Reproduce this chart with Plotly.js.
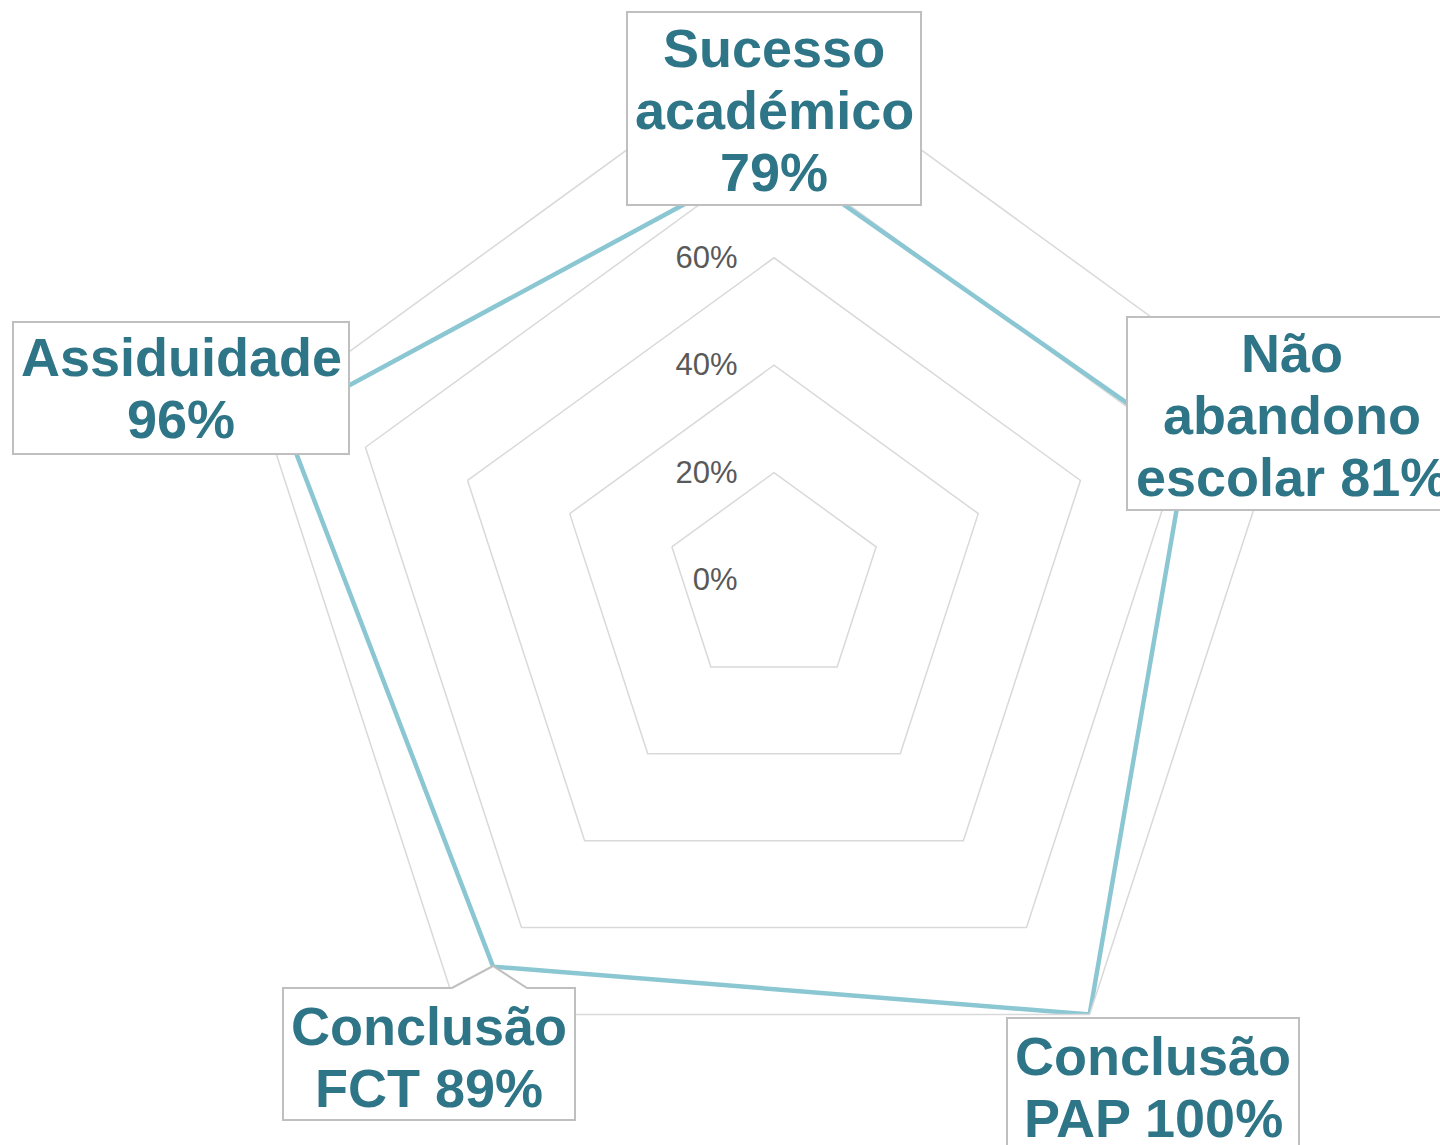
<!DOCTYPE html>
<html>
<head>
<meta charset="utf-8">
<script src="https://cdn.plot.ly/plotly-3.0.1.min.js"></script>
<style>
  html, body { margin: 0; padding: 0; background: #fff; }
  #myDiv { width: 1440px; height: 1145px; }
</style>
</head>
<body>
<div id="myDiv"></div>
<script>
// chart data
var categories = ['Sucesso académico', 'Não abandono escolar', 'Conclusão PAP', 'Conclusão FCT', 'Assiduidade'];
var values = [79, 81, 100, 89, 96];
var tickValues = [0, 20, 40, 60, 80, 100];
var tickLabels = ['0%', '20%', '40%', '60%', '80%', '100%'];

// how each category label is broken into lines (value gets appended to the last line)
var labelLines = [
    ['Sucesso', 'académico', ''],
    ['Não', 'abandono', 'escolar '],
    ['Conclusão', 'PAP '],
    ['Conclusão', 'FCT '],
    ['Assiduidade', '']
];

// label boxes, in pixels of the 1440x1145 page
var W = 1440, H = 1145;
var boxes = [
    {x0: 627, x1: 921, y0: 12, y1: 205, cx: 774, top: 48},
    {x0: 1127, x1: 1460, y0: 317, y1: 510, cx: 1292, top: 353},
    {x0: 1007, x1: 1299, y0: 1018, y1: 1160, cx: 1153, top: 1056},
    {x0: 283, x1: 575, y0: 988, y1: 1120, cx: 429, top: 1026, tip: [452, 493, 966, 527]},
    {x0: 13, x1: 349, y0: 322, y1: 454, cx: 181, top: 357}
];
var lineStep = 62;

function px(x) { return x / W; }
function py(y) { return 1 - y / H; }

var trace1 = {
    type: 'scatterpolar',
    r: values.concat([values[0]]),
    theta: categories.concat([categories[0]]),
    mode: 'lines',
    line: {color: '#8BC7D2', width: 4.5},
    hoverinfo: 'skip',
    showlegend: false
};

var shapes = [];
var annotations = [];
boxes.forEach(function (b, i) {
    var path;
    if (b.tip) {
        // callout box with a small pointer up to the FCT point
        path = 'M' + px(b.x0) + ',' + py(b.y0) +
            ' L' + px(b.tip[0]) + ',' + py(b.y0) +
            ' L' + px(b.tip[1]) + ',' + py(b.tip[2]) +
            ' L' + px(b.tip[3]) + ',' + py(b.y0) +
            ' L' + px(b.x1) + ',' + py(b.y0) +
            ' L' + px(b.x1) + ',' + py(b.y1) +
            ' L' + px(b.x0) + ',' + py(b.y1) + ' Z';
    } else {
        path = 'M' + px(b.x0) + ',' + py(b.y0) +
            ' L' + px(b.x1) + ',' + py(b.y0) +
            ' L' + px(b.x1) + ',' + py(b.y1) +
            ' L' + px(b.x0) + ',' + py(b.y1) + ' Z';
    }
    shapes.push({
        type: 'path', path: path, xref: 'paper', yref: 'paper',
        fillcolor: '#ffffff', line: {color: '#BFBFBF', width: 2}, layer: 'above'
    });
    var lines = labelLines[i];
    lines.forEach(function (t, j) {
        var txt = t;
        if (j === lines.length - 1) txt = t + values[i] + '%';
        annotations.push({
            xref: 'paper', yref: 'paper',
            x: px(b.cx), y: py(b.top + j * lineStep),
            xanchor: 'center', yanchor: 'middle',
            text: txt, showarrow: false,
            font: {family: 'Liberation Sans, Arial, sans-serif', size: 54, color: '#2E7587', weight: 'bold'}
        });
    });
});

var layout = {
    width: W,
    height: H,
    margin: {l: 0, r: 0, t: 0, b: 0},
    paper_bgcolor: '#ffffff',
    showlegend: false,
    polar: {
        domain: {x: [px(237), px(1311)], y: [py(1117), py(43)]},
        gridshape: 'linear',
        bgcolor: 'rgba(0,0,0,0)',
        radialaxis: {
            range: [0, 100],
            tickvals: tickValues,
            ticktext: tickLabels,
            angle: 90,
            tickangle: 90,
            side: 'counterclockwise',
            showline: false,
            ticks: 'outside',
            ticklen: 25,
            tickcolor: 'rgba(0,0,0,0)',
            gridcolor: '#D9D9D9',
            gridwidth: 1.5,
            tickfont: {family: 'Liberation Sans, Arial, sans-serif', size: 31, color: '#595959'}
        },
        angularaxis: {
            direction: 'clockwise',
            rotation: 90,
            showgrid: false,
            showticklabels: false,
            ticks: '',
            showline: true,
            linecolor: '#D9D9D9',
            linewidth: 1.5
        }
    },
    shapes: shapes,
    annotations: annotations
};

Plotly.newPlot('myDiv', [trace1], layout, {staticPlot: true});
</script>
</body>
</html>
